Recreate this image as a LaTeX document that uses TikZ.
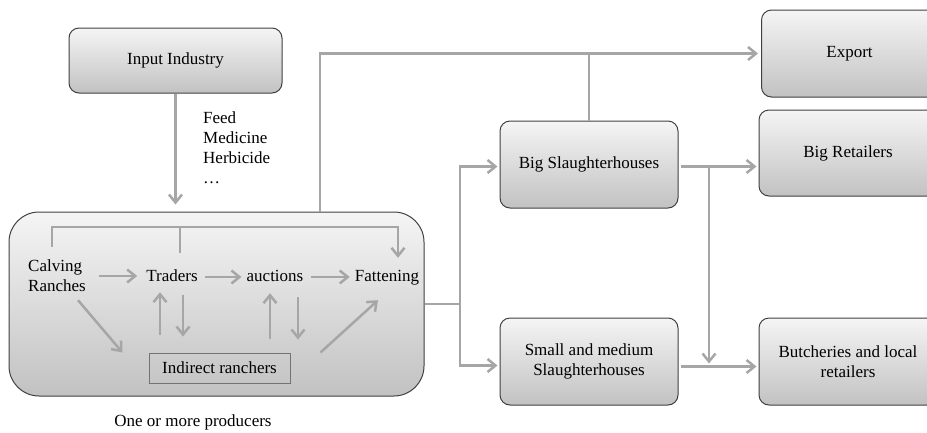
\documentclass[tikz,border=0pt]{standalone}
\usepackage{fontspec}
\setmainfont{Liberation Serif}
\usetikzlibrary{arrows.meta}

\begin{document}
\begin{tikzpicture}[
    x = 1pt, y = -1pt, align = center,
    font = \fontsize{17}{20}\selectfont,
    box/.style = {rectangle, draw = black!75, line width = 1pt, rounded corners = 10pt, top color = black!4, bottom color = black!24, minimum width = 178pt, minimum height = 87pt},
    producer/.style = {box, rounded corners = 30pt, minimum width = 415pt, minimum height = 184pt},
    stage/.style = {inner sep = 3pt, text height = 12pt, text depth = 4pt},
    indirect/.style = {rectangle, draw = black!55, line width = 1pt, minimum width = 141pt, minimum height = 30pt, inner sep = 0pt},
    note/.style = {inner sep = 0pt},
    link/.style = {draw = black!35, line width = 2.5pt},
    flow/.style = {link, -{Straight Barb[length = 8pt, width = 13pt]}},
    ]

    % frame of the picture
    \useasboundingbox (0,0) rectangle (927,432);

    % producers and their inner chain
    \node [producer] (prod) at (216.5,304) {};
    \node [inner sep = 3pt, align = left] (calving) at (57,276) {Calving\\Ranches};
    \node [stage] (traders) at (172,277) {Traders};
    \node [stage] (auctions) at (275,277) {auctions};
    \node [stage] (fattening) at (387,277) {Fattening};
    \node [indirect] (indirect) at (219.5,368) {Indirect ranchers};
    \node [note] (producers) at (193,422) {One or more producers};

    % upstream
    \node [box, minimum width = 213pt, minimum height = 65pt] (input) at (175.5,60.5) {Input Industry};
    \node [note, align = left, anchor = north west] (inputs) at (203,111) {Feed\\Medicine\\Herbicide\\\ldots};

    % downstream
    \node [box] (bigsl) at (589,164.5) {Big Slaughterhouses};
    \node [box] (small) at (589,361.5) {Small and medium\\Slaughterhouses};
    \node [box, minimum width = 176pt] (export) at (849.5,53.5) {Export};
    \node [box, minimum height = 86pt] (bigret) at (848,153) {Big Retailers};
    \node [box] (butch) at (848,361.5) {Butcheries and local\\retailers};

    % inputs into the producers
    \draw [flow, shorten >= 7pt] (input) -- (input |- prod.north);

    % inner chain
    \coordinate (bar) at (180,227);
    \draw [flow, shorten <= 10pt, shorten >= 8pt] ([xshift = -5pt]calving.north) |- (bar) -| ([xshift = 11pt]fattening.north);
    \draw [link, shorten <= 13pt] ([xshift = 8pt]traders.north) -- (bar);
    \draw [flow, shorten <= 10pt, shorten >= 6pt] (calving.east) -- (calving.east -| traders.west);
    \draw [flow, shorten <= 4pt, shorten >= 2pt] (traders) -- (auctions);
    \draw [flow, shorten <= 4pt, shorten >= 2pt] (auctions) -- (fattening);
    \draw [flow, shorten <= 18pt, shorten >= 4pt] ([xshift = -12pt]traders.south |- indirect.north) -- ([xshift = -12pt]traders.south);
    \draw [flow, shorten <= 7pt, shorten >= 16pt] ([xshift = 11pt]traders.south) -- ([xshift = 11pt]traders.south |- indirect.north);
    \draw [flow, shorten <= 14pt, shorten >= 5pt] ([xshift = -5pt]auctions.south |- indirect.north) -- ([xshift = -5pt]auctions.south);
    \draw [flow, shorten <= 9pt, shorten >= 13pt] ([xshift = 23pt]auctions.south) -- ([xshift = 23pt]auctions.south |- indirect.north);
    \draw [flow] ([shift = {(21pt,-5pt)}]calving.south) -- ([xshift = -26pt]indirect.north west);
    \draw [flow] ([xshift = 30pt]indirect.north east) -- ([shift = {(-9pt,-12pt)}]fattening.south);

    % out of the producers
    \draw [flow, shorten >= 3pt] ([xshift = 103.5pt]prod.north) |- (export.west);
    \draw [link] (bigsl.north) -- (bigsl.north |- export.west);
    \coordinate (split) at (460,304);
    \draw [link] (prod.east) -- (split);
    \draw [flow, shorten >= 2pt] (split) |- ([yshift = -2pt]bigsl.west);
    \draw [flow, shorten >= 2pt] (split) |- ([yshift = -4pt]small.west);

    % slaughterhouses to retail
    \draw [flow, shorten <= 2pt, shorten >= 2pt] ([yshift = -2pt]bigsl.east) -- ([yshift = -2pt]bigsl.east -| bigret.west);
    \coordinate (drop) at (709,0);
    \draw [flow] ([yshift = -2pt]drop |- bigsl.east) -- ([yshift = -2pt]drop |- small.east);
    \draw [flow, shorten <= 2pt, shorten >= 2pt] ([yshift = -5pt]small.east) -- ([yshift = -5pt]small.east -| butch.west);
\end{tikzpicture}
\end{document}
